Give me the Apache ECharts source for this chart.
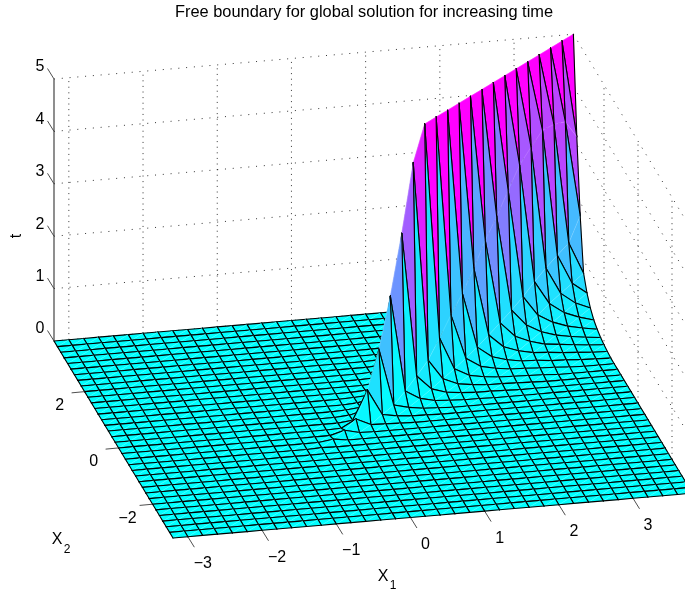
<!DOCTYPE html>
<html><head><meta charset="utf-8">
<style>html,body{margin:0;padding:0;background:#fff}#c{width:685px;height:594px}</style>
<script src="https://cdn.jsdelivr.net/npm/echarts@6/dist/echarts.min.js"></script>
</head><body><div id="c"></div>
<script>
const titleText = 'Free boundary for global solution for increasing time';
const x1Ticks = [-3,-2,-1,0,1,2,3];
const x2Ticks = [-2,0,2];
const tTicks = [0,1,2,3,4,5];
const gridStep = 0.2, gridMin = -3.2, gridCount = 36;
// crest values t(x,x), listed from x=3.8 downward
const crest = [5,5,5,5,5,5,5,5,5,5,5,5,5,5,4.39,3.18,2.11,1.23,0.58,0.16,0.08,0.04,0.01];
// t at (x+0.2d, x), listed from the far edge of the grid downward
const off1 = [3.15,3.57,3.65,3.67,3.48,3.27,2.92,2.55,2.23,1.83,1.48,1.2,0.89,0.6,0.43,0.275,0.14,0.09,0.03,0.01];
const off2 = [1.75,1.36,1.26,1.15,1.02,0.865,0.74,0.63,0.53,0.43,0.35,0.28,0.22,0.16,0.11,0.07,0.04,0.02];
const off3 = [0.76,0.7,0.64,0.58,0.49,0.43,0.35,0.28,0.22,0.17,0.13,0.1,0.07,0.045,0.03,0.015,0.01];
const off4 = [0.49,0.43,0.38,0.33,0.28,0.23,0.18,0.14,0.11,0.08,0.06,0.04,0.025,0.015,0.01];
const off5 = [0.31,0.27,0.23,0.19,0.15,0.12,0.09,0.07,0.05,0.035,0.02,0.01];
const off6 = [0.19,0.17,0.14,0.12,0.1,0.08,0.06,0.04,0.03,0.02,0.01];
const off7 = [0.12,0.1,0.09,0.07,0.05,0.04,0.03,0.02,0.01];
const off8 = [0.07,0.06,0.05,0.04,0.03,0.02,0.01];
const off9 = [0.04,0.03,0.02,0.01];
const off10 = [0.02,0.01];
const offTable = [crest,off1,off2,off3,off4,off5,off6,off7,off8,off9,off10];

function tAt(i,j){ // i: x1 index, j: x2 index
  const d = Math.abs(i-j), lo = Math.min(i,j);
  const row = offTable[d];
  if(!row) return 0;
  const n = (gridCount-1-d) - lo;
  return n < row.length ? row[n] : 0;
}
const xVal = i => gridMin + i*gridStep;
// orthographic view of the axes box
function proj(x1,x2,t){
  return [54 + (x1+3.2)*74.2 + (3.8-x2)*17,
          341 - (x1+3.2)*6.4 + (3.8-x2)*28.14 - t*52.4];
}
const cool = t => { const c=Math.min(1,Math.max(0,t/5));
  return 'rgb('+Math.round(255*c)+','+Math.round(255*(1-c))+',255)'; };

const cells = [];
for(let j=gridCount-2;j>=0;j--) for(let i=gridCount-2;i>=0;i--) cells.push([i,j]);

const lines = [];
const zMax=5, lo=-3.2, hi=3.8;
x1Ticks.forEach(v=>lines.push([[v,hi,0],[v,hi,zMax],1]));
x2Ticks.forEach(v=>lines.push([[hi,v,0],[hi,v,zMax],1]));
tTicks.forEach(v=>{ lines.push([[lo,hi,v],[hi,hi,v],0]); lines.push([[hi,hi,v],[hi,lo,v],0]); });

const labels = [];
tTicks.forEach(v=>{const p=proj(lo,hi,v);labels.push({p:[p[0]-14,p[1]-12],s:String(v)});});
x1Ticks.forEach(v=>{const p=proj(v,lo,0);labels.push({p:[p[0]+15,p[1]+27],s:String(v).replace('-','\u2212')});});
x2Ticks.forEach(v=>{const p=proj(lo,v,0);labels.push({p:[p[0]-25,p[1]+14],s:String(v).replace('-','\u2212')});});

const ticks = [];
tTicks.forEach(v=>{const p=proj(lo,hi,v);ticks.push([p,[p[0]-6.5,p[1]-10.5]]);});
x1Ticks.forEach(v=>{const p=proj(v,lo,0);ticks.push([p,[p[0]+6.5,p[1]+10.5]]);});
x2Ticks.forEach(v=>{const p=proj(lo,v,0);ticks.push([p,[p[0]-13,p[1]+1.2]]);});

const font='"Liberation Sans",Arial,Helvetica,sans-serif';
const chart = echarts.init(document.getElementById('c'),null,{renderer:'canvas'});
chart.setOption({
  animation:false,
  backgroundColor:'#fff',
  grid:{left:0,right:0,top:0,bottom:0},
  xAxis:{type:'value',min:0,max:685,show:false},
  yAxis:{type:'value',min:0,max:594,inverse:true,show:false},
  series:[
   {type:'custom',silent:true,data:lines.map((l,i)=>[i]),clip:false,
    renderItem:(p,api)=>{const l=lines[api.value(0)];
      const a=api.coord(proj(...l[0])),b=api.coord(proj(...l[1]));
      return {type:'line',shape:{x1:a[0],y1:a[1],x2:b[0],y2:b[1]},
        style:{stroke:'#000',lineWidth:0.8,lineDash:l[2]?[1,4.6]:[1,6.8],fill:null}};}},
   {type:'custom',silent:true,data:cells,clip:false,
    renderItem:(p,api)=>{const i=api.value(0),j=api.value(1);
      const pts=[[i,j],[i+1,j],[i+1,j+1],[i,j+1]].map(c=>api.coord(proj(xVal(c[0]),xVal(c[1]),tAt(c[0],c[1]))));
      const col=cool(tAt(i,j));
      const tri=(a,b,c)=>({type:'polygon',shape:{points:[pts[a],pts[b],pts[c]]},
        style:{fill:col,stroke:col,lineWidth:0.3}});
      const edge=(a,b)=>({type:'line',shape:{x1:pts[a][0],y1:pts[a][1],x2:pts[b][0],y2:pts[b][1]},
        style:{stroke:'#000',lineWidth:1.1,lineCap:'round',fill:null}});
      // far triangle with its edges first, then the near one over it
      return {type:'group',children:[
        tri(0,2,3),edge(2,3),edge(3,0),
        tri(0,1,2),
        {type:'line',shape:{x1:pts[0][0],y1:pts[0][1],x2:pts[2][0],y2:pts[2][1]},
         style:{stroke:'rgba(255,255,255,0.16)',lineWidth:1,fill:null}},
        edge(0,1),edge(1,2)
      ]};}},
   {type:'custom',silent:true,data:ticks.map((l,i)=>[i]),clip:false,
    renderItem:(p,api)=>{const l=ticks[api.value(0)];
      const a=api.coord(l[0]),b=api.coord(l[1]);
      return {type:'line',shape:{x1:a[0],y1:a[1],x2:b[0],y2:b[1]},style:{stroke:'#222',lineWidth:0.8,fill:null}};}},
   {type:'custom',silent:true,data:[[0]],clip:false,
    renderItem:(p,api)=>{const a=api.coord(proj(lo,hi,0)),b=api.coord(proj(lo,hi,5));
      return {type:'line',shape:{x1:a[0],y1:a[1],x2:b[0],y2:b[1]},style:{stroke:'#444',lineWidth:1.2,fill:null}};}},
   {type:'custom',silent:true,data:labels.map((l,i)=>[i]),clip:false,
    renderItem:(p,api)=>{const l=labels[api.value(0)];const a=api.coord(l.p);
      return {type:'text',x:a[0],y:a[1],style:{text:l.s,fill:'#000',font:'16px '+font,textAlign:'center',textVerticalAlign:'middle'}};}},
   {type:'custom',silent:true,data:[[0],[1],[2],[3]],clip:false,
    renderItem:(p,api)=>{const k=api.value(0);
      if(k===3){const a=api.coord([364,12]);
        return {type:'text',x:a[0],y:a[1],style:{text:titleText,fill:'#000',font:'16.4px '+font,textAlign:'center',textVerticalAlign:'middle'}};}
      if(k===2){const a=api.coord([17,236]);
        return {type:'text',x:a[0],y:a[1],rotation:Math.PI/2,style:{text:'t',fill:'#000',font:'16px '+font,textAlign:'center',textVerticalAlign:'middle'}};}
      const a=api.coord(k===0?[383,577]:[57,540]);
      const sub=api.coord(k===0?[393,586]:[67,550]);
      return {type:'group',children:[
        {type:'text',x:a[0],y:a[1],style:{text:'X',fill:'#000',font:'16px '+font,textAlign:'center',textVerticalAlign:'middle'}},
        {type:'text',x:sub[0],y:sub[1],style:{text:k===0?'1':'2',fill:'#000',font:'12px '+font,textAlign:'center',textVerticalAlign:'middle'}}
      ]};}}
  ]
});
</script></body></html>
